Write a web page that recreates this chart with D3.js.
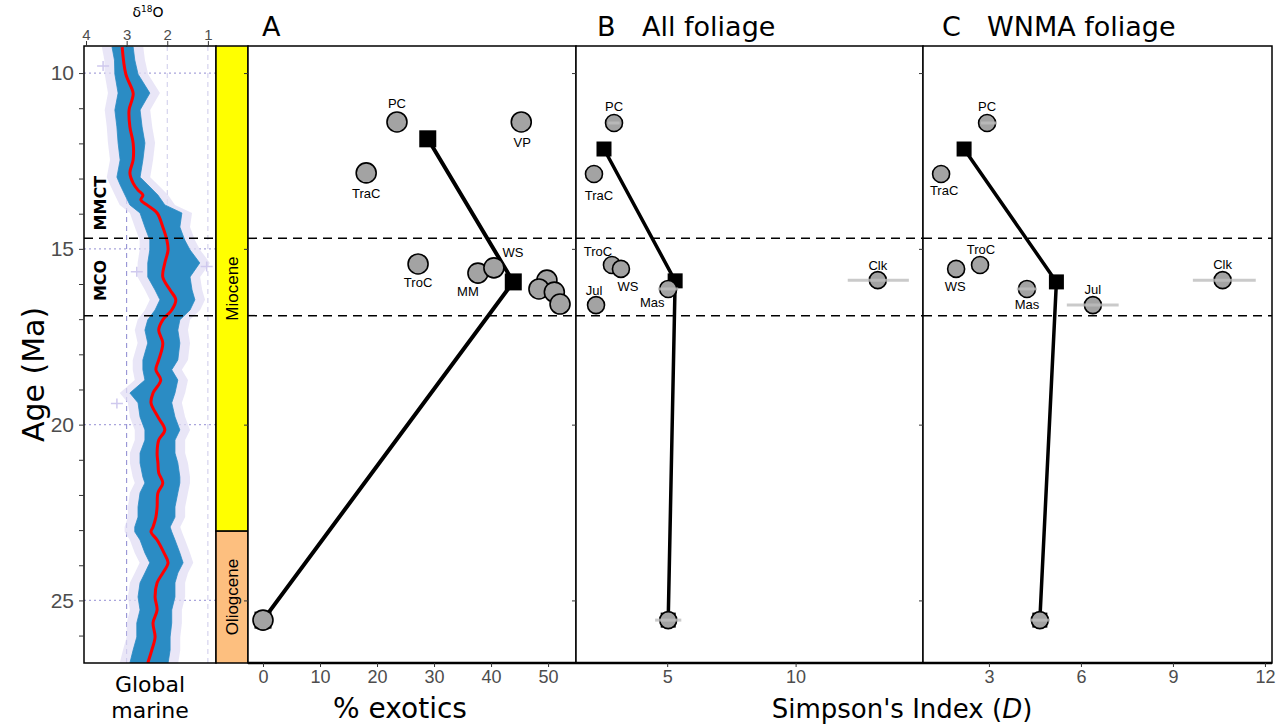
<!DOCTYPE html>
<head>
  <meta charset="utf-8">
  <style>
    body { margin: 0; background: #fff; }
    svg { display: block; font-family: "DejaVu Sans", Verdana, sans-serif; }
    .tick text { font-family: "Liberation Sans", Arial, sans-serif; fill: #4d4d4d; }
    .tick line { stroke: #333; }
    .lbl { font-family: "Liberation Sans", Arial, sans-serif; font-size: 13px; }
  </style>
  <script src="https://cdn.jsdelivr.net/npm/d3@7"></script>
</head>
<body>
<div id=chart></div>
<script>
// --- benthic d18O record ---
const isoAge = [9.26, 10.03, 10.57, 10.77, 11.05, 11.53, 11.99, 12.47, 12.84, 13.13, 13.33, 13.47, 13.61, 13.75, 13.98, 14.38, 14.75, 15.03, 15.4, 15.8, 16.17, 16.45, 16.74, 17.02, 17.31, 17.68, 18.16, 18.44, 18.73, 19.1, 19.38, 19.78, 20.15, 20.44, 20.81, 21.09, 21.37, 21.66, 21.94, 22.34, 22.63, 22.91, 23.05, 23.28, 23.65, 23.93, 24.22, 24.5, 24.9, 25.27, 25.64, 26.04, 26.41, 26.78]
const isoSmooth = [3.11, 3.02, 2.84, 2.87, 2.94, 2.92, 2.84, 2.84, 2.92, 2.84, 2.72, 2.6, 2.65, 2.5, 2.25, 2.11, 2.01, 1.98, 2.06, 2.11, 1.93, 1.79, 1.89, 2.11, 2.21, 2.11, 2.21, 2.28, 2.16, 2.35, 2.4, 2.23, 2.06, 2.21, 2.25, 2.23, 2.21, 2.11, 2.23, 2.25, 2.28, 2.35, 2.4, 2.25, 2.08, 1.98, 2.11, 2.25, 2.3, 2.25, 2.35, 2.3, 2.38, 2.48]

const rawAge = [9.26, 9.63, 10.03, 10.57, 11.05, 11.53, 11.99, 12.47, 12.96, 13.18, 13.47, 13.75, 13.98, 14.38, 14.75, 15.03, 15.4, 15.8, 16.17, 16.45, 16.74, 17.02, 17.31, 17.68, 18.16, 18.44, 18.73, 19.1, 19.38, 19.78, 20.15, 20.44, 20.81, 21.09, 21.49, 21.66, 21.94, 22.34, 22.63, 22.91, 23.05, 23.28, 23.65, 23.93, 24.22, 24.5, 24.9, 25.27, 25.64, 26.04, 26.41, 26.78]
const rawHeavy = [3.36, 3.3, 3.29, 3.21, 3.29, 3.24, 3.21, 3.16, 3.24, 3.16, 3.04, 2.92, 2.67, 2.55, 2.43, 2.43, 2.48, 2.48, 2.3, 2.18, 2.3, 2.48, 2.55, 2.48, 2.6, 2.6, 2.55, 2.92, 2.72, 2.67, 2.55, 2.55, 2.67, 2.67, 2.6, 2.55, 2.67, 2.72, 2.72, 2.8, 2.8, 2.67, 2.55, 2.43, 2.55, 2.67, 2.72, 2.67, 2.75, 2.75, 2.84, 2.92]
const rawLight = [2.84, 2.8, 2.72, 2.43, 2.67, 2.62, 2.55, 2.6, 2.67, 2.48, 2.23, 2.06, 1.64, 1.69, 1.57, 1.44, 1.2, 1.44, 1.39, 1.32, 1.44, 1.69, 1.74, 1.69, 1.74, 1.89, 1.74, 1.81, 1.89, 1.81, 1.69, 1.81, 1.81, 1.74, 1.69, 1.69, 1.74, 1.81, 1.81, 1.93, 1.89, 1.81, 1.69, 1.61, 1.74, 1.81, 1.81, 1.89, 1.89, 1.93, 1.93, 1.98]
const strayAge = [9.8, 15.5, 15.65, 19.4]
const strayIso = [3.58, 1.03, 2.75, 3.24]

const isoTicks = [4, 3, 2, 1]
const ageTicks = [10, 15, 20, 25]
const eventNames = ['MMCT', 'MCO']
const eventBounds = [14.7, 16.9]
const eventLabelAge = [13.7, 15.9]

const epochNames = ['Miocene', 'Oliogcene']
const epochTop = [5.33, 23.03]
const epochBase = [23.03, 33.9]
const epochColors = ['#ffff00', '#fdbf7f']

// --- panel A: % exotics ---
const aLabel = ['PC', 'VP', 'TraC', 'TroC', 'MM', 'WS', '', '', '', '', '']
const aAge = [11.39, 11.39, 12.84, 15.43, 15.69, 15.54, 15.89, 16.14, 16.23, 16.57, 25.56]
const aVal = [23.5, 45.3, 18.1, 27.2, 37.7, 40.5, 49.8, 48.4, 51.1, 52.1, 0]
const aMeanAge = [11.87, 15.94, 25.56]
const aMeanVal = [28.9, 43.9, 0]
const aTicks = [0, 10, 20, 30, 40, 50]

// --- panel B: Simpson's index, all foliage ---
const bLabel = ['PC', 'TraC', 'TroC', 'WS', 'Jul', 'Mas', 'Clk', '']
const bAge = [11.42, 12.87, 15.46, 15.57, 16.6, 16.14, 15.89, 25.56]
const bVal = [2.93, 2.15, 2.85, 3.2, 2.23, 5.04, 13.2, 5.04]
const bLo = [2.7, 2.15, 2.85, 3.2, 2.23, 4.64, 12.03, 4.53]
const bHi = [3.15, 2.15, 2.85, 3.2, 2.23, 5.43, 14.41, 5.55]
const bMeanAge = [12.16, 15.91, 25.56]
const bMeanVal = [2.54, 5.31, 5.04]
const bTicks = [5, 10]

// --- panel C: Simpson's index, WNMA foliage ---
const cLabel = ['PC', 'TraC', 'TroC', 'WS', 'Mas', 'Jul', 'Clk', '']
const cAge = [11.42, 12.87, 15.46, 15.57, 16.14, 16.6, 15.89, 25.56]
const cVal = [2.94, 1.44, 2.71, 1.93, 4.24, 6.39, 10.62, 4.66]
const cLo = [2.74, 1.44, 2.71, 1.93, 3.91, 5.54, 9.65, 4.34]
const cHi = [3.26, 1.44, 2.71, 1.93, 4.56, 7.23, 11.7, 4.99]
const cMeanAge = [12.16, 15.94, 25.56]
const cMeanVal = [2.19, 5.2, 4.66]
const cTicks = [3, 6, 9, 12]

// label nudges (px) per panel
const nudge = {
  A: { PC: [0, -18], VP: [1, 21], TraC: [0, 21], TroC: [0, 19], MM: [-10, 18], WS: [19, -15] },
  B: { PC: [0, -16], TraC: [5, 22], TroC: [-14, -14], WS: [7, 18], Jul: [-2, -15], Mas: [-16, 14], Clk: [0, -15] },
  C: { PC: [0, -16], TraC: [3, 17], TroC: [1, -16], WS: [-1, 18], Mas: [0, 16], Jul: [0, -16], Clk: [0, -16] },
}

const W = 1288, H = 728
const plotTop = 46, plotBottom = 663
const svg = d3.select('#chart').append('svg').attr('width', W).attr('height', H)

const y = d3.scaleLinear([9.23, 26.78], [plotTop, plotBottom])
const xIso = d3.scaleLinear([4.05, 0.8], [84, 216])
const epochX = [216, 248]

// ---------- d18O panel ----------
{
  const g = svg.append('g')
  const clip = svg.append('clipPath').attr('id', 'isoclip')
  clip.append('rect').attr('x', 84).attr('y', plotTop).attr('width', 132).attr('height', plotBottom - plotTop)
  const inner = g.append('g').attr('clip-path', 'url(#isoclip)')

  // grid
  inner.selectAll('.vg').data([3, 2, 1]).join('line')
    .attr('x1', d => xIso(d)).attr('x2', d => xIso(d)).attr('y1', plotTop).attr('y2', plotBottom)
    .attr('stroke', d => d === 3 ? '#8a86d0' : '#cdcbea').attr('stroke-dasharray', '5,4').attr('stroke-width', 1)
  inner.selectAll('.hg').data(ageTicks).join('line')
    .attr('x1', 84).attr('x2', 216).attr('y1', d => y(d)).attr('y2', d => y(d))
    .attr('stroke', '#a9a5dc').attr('stroke-dasharray', '2,3').attr('stroke-width', 1.2)

  const raw = rawAge.map((a, i) => ({ a, h: rawHeavy[i], l: rawLight[i] }))
  // lavender error halo
  inner.append('path').datum(raw)
    .attr('d', d3.area().y(d => y(d.a)).x0(d => xIso(d.h + 0.25)).x1(d => xIso(d.l - 0.25)))
    .attr('fill', '#e2def4').attr('opacity', 0.75)
  // blue raw values
  inner.append('path').datum(raw)
    .attr('d', d3.area().y(d => y(d.a)).x0(d => xIso(d.h)).x1(d => xIso(d.l)))
    .attr('fill', '#2b8cc4').attr('stroke', '#2b8cc4').attr('stroke-width', 0.8)
  inner.selectAll('.stray').data(strayAge).join('path')
    .attr('d', (d, i) => {
      const cx = xIso(strayIso[i]), cy = y(d)
      return `M${cx - 6},${cy}H${cx + 6}M${cx},${cy - 5}V${cy + 5}`
    })
    .attr('stroke', '#cfc9ee').attr('stroke-width', 1.5)
  // smoothed curve
  inner.append('path').datum(isoAge)
    .attr('d', d3.line().y(d => y(d)).x((d, i) => xIso(isoSmooth[i])).curve(d3.curveCatmullRom))
    .attr('fill', 'none').attr('stroke', '#ff0000').attr('stroke-width', 3)

  inner.selectAll('.ev').data(eventBounds).join('line')
    .attr('x1', 84).attr('x2', 216).attr('y1', d => y(d)).attr('y2', d => y(d))
    .attr('stroke', '#000').attr('stroke-width', 1.5).attr('stroke-dasharray', '9,6')

  eventNames.forEach((n, i) => {
    g.append('text').attr('transform', `translate(106,${y(eventLabelAge[i])}) rotate(-90)`)
      .attr('text-anchor', 'middle').attr('font-weight', 'bold').attr('font-size', 16).text(n)
  })

  g.append('rect').attr('x', 84).attr('y', plotTop).attr('width', 132).attr('height', plotBottom - plotTop)
    .attr('fill', 'none').attr('stroke', '#000').attr('stroke-width', 1.5)

  const ax = g.append('g').attr('transform', `translate(0,${plotTop})`)
    .call(d3.axisTop(xIso).tickValues(isoTicks).tickSize(5).tickPadding(1).tickFormat(d3.format('d')))
  ax.select('.domain').remove()
  ax.selectAll('text').attr('font-size', 15)

  const ay = g.append('g').attr('transform', 'translate(84,0)')
    .call(d3.axisLeft(y).tickValues(d3.range(10, 27)).tickSize(5).tickPadding(5)
      .tickFormat(d => ageTicks.includes(d) ? d : ''))
  ay.select('.domain').remove()
  ay.selectAll('text').attr('font-size', 21)

  const t = g.append('text').attr('x', 148).attr('y', 17).attr('text-anchor', 'middle').attr('font-size', 14)
  t.append('tspan').text('δ')
  t.append('tspan').attr('font-size', 9).attr('dy', -5).text('18')
  t.append('tspan').attr('dy', 5).text('O')

  g.append('text').attr('x', 150).attr('y', 692).attr('text-anchor', 'middle').attr('font-size', 22).text('Global')
  g.append('text').attr('x', 150).attr('y', 718).attr('text-anchor', 'middle').attr('font-size', 22).text('marine')
  g.append('text').attr('transform', `translate(44,${(plotTop + plotBottom) / 2 + 20}) rotate(-90)`)
    .attr('text-anchor', 'middle').attr('font-size', 30).text('Age (Ma)')
}

// ---------- epoch column ----------
{
  const g = svg.append('g')
  epochNames.forEach((n, i) => {
    const a0 = Math.max(epochTop[i], y.domain()[0]), a1 = Math.min(epochBase[i], y.domain()[1])
    g.append('rect').attr('x', epochX[0]).attr('width', epochX[1] - epochX[0])
      .attr('y', y(a0)).attr('height', y(a1) - y(a0))
      .attr('fill', epochColors[i]).attr('stroke', '#000').attr('stroke-width', 1.5)
    g.append('text').attr('transform', `translate(${(epochX[0] + epochX[1]) / 2},${y((a0 + a1) / 2)}) rotate(-90)`)
      .attr('text-anchor', 'middle').attr('dominant-baseline', 'central').attr('font-size', 17)
      .attr('font-family', '"Liberation Sans", Arial, sans-serif').text(n)
  })
}

// ---------- data panels ----------
function panel(key, x, labels, ages, vals, lo, hi, meanAge, meanVal, ticks, opt) {
  const [x0, x1] = x.range()
  const g = svg.append('g')
  g.append('rect').attr('x', x0).attr('y', plotTop).attr('width', x1 - x0).attr('height', plotBottom - plotTop)
    .attr('fill', '#fff')

  g.selectAll('.ev').data(eventBounds).join('line')
    .attr('x1', x0).attr('x2', x1).attr('y1', d => y(d)).attr('y2', d => y(d))
    .attr('stroke', '#000').attr('stroke-width', 1.5).attr('stroke-dasharray', '9,6')

  g.append('path').datum(meanAge)
    .attr('d', d3.line().y(d => y(d)).x((d, i) => x(meanVal[i])))
    .attr('fill', 'none').attr('stroke', '#000').attr('stroke-width', opt.lw)
  g.selectAll('.sq').data(meanAge).join('rect')
    .attr('x', (d, i) => x(meanVal[i]) - opt.sq / 2).attr('y', d => y(d) - opt.sq / 2)
    .attr('width', opt.sq).attr('height', opt.sq).attr('fill', '#000')

  g.selectAll('.pt').data(ages).join('circle')
    .attr('cx', (d, i) => x(vals[i])).attr('cy', d => y(d)).attr('r', opt.r)
    .attr('fill', '#a3a3a3').attr('stroke', '#000').attr('stroke-width', 1.6)

  if (lo) {
    g.selectAll('.eb').data(ages).join('line')
      .attr('x1', (d, i) => x(lo[i])).attr('x2', (d, i) => x(hi[i]))
      .attr('y1', d => y(d)).attr('y2', d => y(d))
      .attr('stroke', '#bdbdbd').attr('stroke-opacity', 0.8).attr('stroke-width', 3)
  }

  labels.forEach((n, i) => {
    if (!n) return
    const [dx, dy] = nudge[key][n]
    g.append('text').attr('class', 'lbl').attr('x', x(vals[i]) + dx).attr('y', y(ages[i]) + dy)
      .attr('text-anchor', 'middle').attr('dominant-baseline', 'central').text(n)
  })

  g.append('rect').attr('x', x0).attr('y', plotTop).attr('width', x1 - x0).attr('height', plotBottom - plotTop)
    .attr('fill', 'none').attr('stroke', '#000').attr('stroke-width', 1.5)
  g.append('line').attr('x1', x0).attr('x2', x1).attr('y1', plotBottom).attr('y2', plotBottom)
    .attr('stroke', '#000').attr('stroke-width', 2.5)

  const ax = g.append('g').attr('transform', `translate(0,${plotBottom})`)
    .call(d3.axisBottom(x).tickValues(ticks).tickSize(4).tickPadding(3))
  ax.select('.domain').remove()
  ax.selectAll('text').attr('font-size', 18)

  const ay = g.append('g').attr('transform', `translate(${x0},0)`)
    .call(d3.axisLeft(y).tickValues(ageTicks).tickSize(4).tickFormat(''))
  ay.select('.domain').remove()

  const t = g.append('text').attr('y', 36).attr('font-size', 27)
  t.append('tspan').attr('x', x0 + opt.tx).text(key)
  if (opt.title) t.append('tspan').attr('x', x0 + opt.tx + 45).text(opt.title)
}

const xA = d3.scaleLinear([-2.63, 54.9], [248, 576])
const xB = d3.scaleLinear([1.45, 14.96], [576, 923])
const xC = d3.scaleLinear([0.85, 12.23], [923, 1272])

panel('A', xA, aLabel, aAge, aVal, null, null, aMeanAge, aMeanVal, aTicks, { r: 10, sq: 17, lw: 4, tx: 14 })
panel('B', xB, bLabel, bAge, bVal, bLo, bHi, bMeanAge, bMeanVal, bTicks, { r: 8.5, sq: 15, lw: 3.5, tx: 21, title: 'All foliage' })
panel('C', xC, cLabel, cAge, cVal, cLo, cHi, cMeanAge, cMeanVal, cTicks, { r: 8.5, sq: 15, lw: 3.5, tx: 19, title: 'WNMA foliage' })

svg.append('text').attr('x', 400).attr('y', 718).attr('text-anchor', 'middle').attr('font-size', 28).text('% exotics')
const st = svg.append('text').attr('x', 902).attr('y', 718).attr('text-anchor', 'middle').attr('font-size', 26)
st.append('tspan').text("Simpson's Index (")
st.append('tspan').attr('font-style', 'italic').text('D')
st.append('tspan').text(')')
</script>
</body>
